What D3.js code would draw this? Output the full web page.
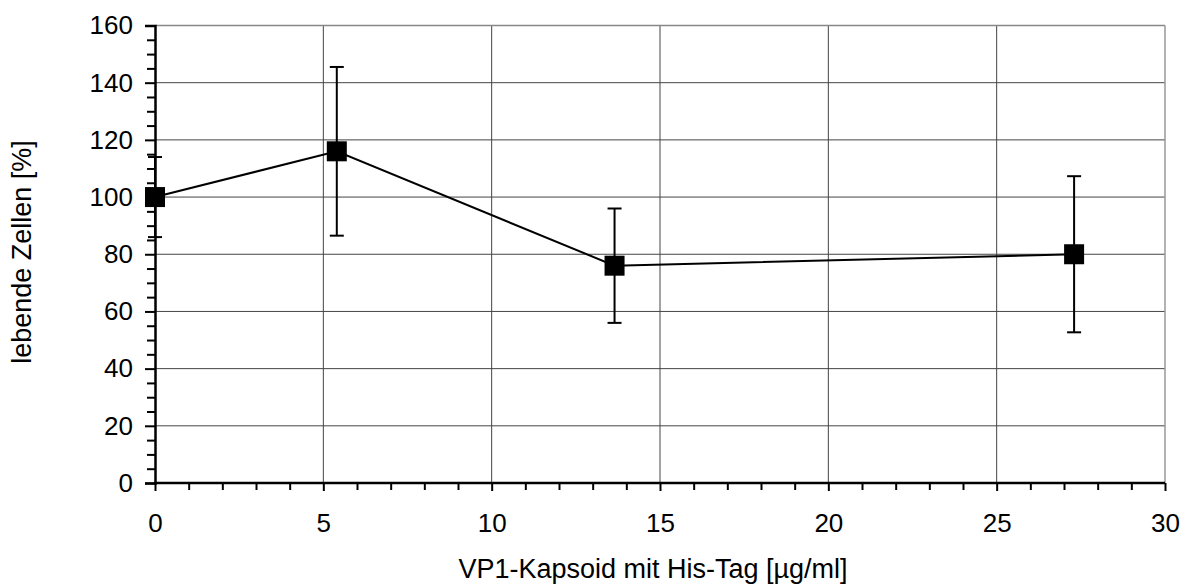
<!DOCTYPE html>
<html><head><meta charset="utf-8">
<script src="https://cdn.jsdelivr.net/npm/d3@7"></script>
<style>body{margin:0;background:#fff}svg{display:block}text{font-family:"Liberation Sans",Arial,sans-serif;fill:#000}</style>
</head><body><svg id="c" width="1192" height="588"></svg>
<script>
const xValues = [0, 5.4, 13.65, 27.3];
const yValues = [100, 116, 76, 80];
const yErrors = [14, 29.5, 20, 27.3];
const xTicks = [0, 5, 10, 15, 20, 25, 30];
const yTicks = [0, 20, 40, 60, 80, 100, 120, 140, 160];
const xTitle = "VP1-Kapsoid mit His-Tag [µg/ml]";
const yTitle = "lebende Zellen [%]";

const svg = d3.select("#c");
const L = 155, R = 1165, T = 25.5, B = 483;
const FS = 26, TFS = 27;
const x = d3.scaleLinear().domain([0, 30]).range([L, R]);
const y = d3.scaleLinear().domain([0, 160]).range([B, T]);

// gridlines
svg.append("g").selectAll("line").data(yTicks.filter(d => d > 0 && d < 160)).join("line")
  .attr("x1", L).attr("x2", R).attr("y1", d => y(d)).attr("y2", d => y(d))
  .attr("stroke", "#444").attr("stroke-width", 1);
svg.append("g").selectAll("line").data(xTicks.filter(d => d > 0 && d < 30)).join("line")
  .attr("y1", T).attr("y2", B).attr("x1", d => x(d)).attr("x2", d => x(d))
  .attr("stroke", "#444").attr("stroke-width", 1);
// top/right border
svg.append("line").attr("x1", L).attr("x2", R).attr("y1", T).attr("y2", T).attr("stroke", "#888").attr("stroke-width", 1.5);
svg.append("line").attr("x1", R).attr("x2", R).attr("y1", T).attr("y2", B).attr("stroke", "#999").attr("stroke-width", 1.5);

// axes
const yAxis = svg.append("g").attr("transform", `translate(${L},0)`)
  .call(d3.axisLeft(y).tickValues(yTicks).tickSize(10).tickPadding(12));
const yMinor = svg.append("g").attr("transform", `translate(${L},0)`)
  .call(d3.axisLeft(y).tickValues(d3.range(0, 161, 5).filter(d => d % 20 !== 0)).tickSize(8).tickFormat(""));
const xAxis = svg.append("g").attr("transform", `translate(0,${B})`)
  .call(d3.axisBottom(x).tickValues(xTicks).tickSize(8).tickPadding(23));
const xMinor = svg.append("g").attr("transform", `translate(0,${B})`)
  .call(d3.axisBottom(x).tickValues(d3.range(0, 31, 1).filter(d => d % 5 !== 0)).tickSize(7).tickFormat(""));
[yAxis, yMinor, xAxis, xMinor].forEach(g => {
  g.attr("font-size", FS).attr("font-family", "Liberation Sans, Arial, sans-serif");
  g.selectAll(".domain").attr("stroke", "#000").attr("stroke-width", 2.5);
  g.selectAll(".tick line").attr("stroke", "#000").attr("stroke-width", 2);
  g.selectAll("text").style("font-size", FS + "px");
});
yMinor.select(".domain").remove(); xMinor.select(".domain").remove();
xAxis.select(".domain").attr("d", `M${L - 1},0H${R}`);

const pts = xValues.map((v, i) => ({ x: v, y: yValues[i], e: yErrors[i] }));
// line
svg.append("path").datum(pts)
  .attr("d", d3.line().x(d => x(d.x)).y(d => y(d.y)))
  .attr("fill", "none").attr("stroke", "#000").attr("stroke-width", 2);
// error bars
const eb = svg.append("g").attr("stroke", "#000").attr("stroke-width", 2);
pts.forEach(d => {
  eb.append("line").attr("x1", x(d.x)).attr("x2", x(d.x)).attr("y1", y(d.y + d.e)).attr("y2", y(d.y - d.e));
  [d.y + d.e, d.y - d.e].forEach(v => eb.append("line").attr("x1", x(d.x) - 7).attr("x2", x(d.x) + 7).attr("y1", y(v)).attr("y2", y(v)));
});
// markers
svg.append("g").selectAll("rect").data(pts).join("rect")
  .attr("x", d => x(d.x) - 10).attr("y", d => y(d.y) - 10).attr("width", 20).attr("height", 20).attr("fill", "#000");

// titles
svg.append("text").attr("x", 653).attr("y", 578).attr("text-anchor", "middle").style("font-size", TFS + "px").text(xTitle);
svg.append("text").attr("transform", `translate(31,252) rotate(-90)`).attr("text-anchor", "middle").style("font-size", TFS + "px").text(yTitle);
</script></body></html>
